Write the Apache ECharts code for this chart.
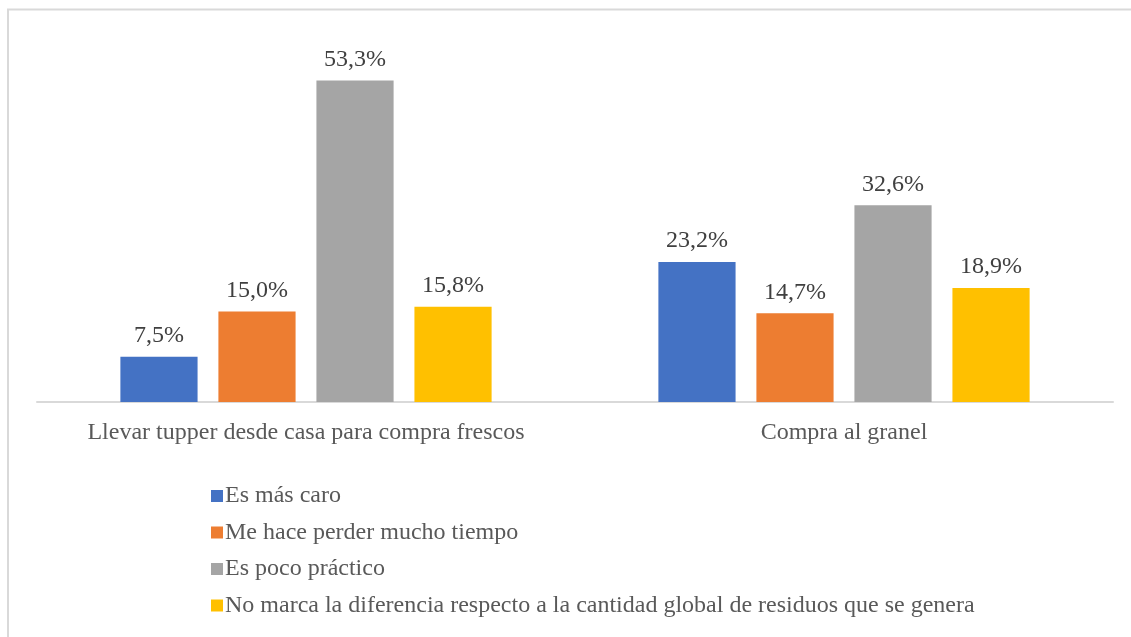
<!DOCTYPE html>
<html>
<head>
<meta charset="utf-8">
<script src="https://cdn.jsdelivr.net/npm/echarts@6/dist/echarts.min.js"></script>
<style>
  html, body { margin: 0; padding: 0; background: #ffffff; }
  #chart { width: 1131px; height: 637px; }
</style>
</head>
<body>
<div id="chart"></div>
<script>
// Categories on the x axis
const categories = ['Llevar tupper desde casa para compra frescos', 'Compra al granel'];

// Series names (legend entries) and their values in percent
const seriesNames = [
  'Es más caro',
  'Me hace perder mucho tiempo',
  'Es poco práctico',
  'No marca la diferencia respecto a la cantidad global de residuos que se genera'
];
const esMasCaro = [7.5, 23.2];
const perderTiempo = [15.0, 14.7];
const pocoPractico = [53.3, 32.6];
const noMarcaDiferencia = [15.8, 18.9];

const seriesValues = [esMasCaro, perderTiempo, pocoPractico, noMarcaDiferencia];
const colors = ['#4472c4', '#ed7d31', '#a5a5a5', '#ffc000'];

const font = '"Liberation Serif", "Times New Roman", serif';

const chart = echarts.init(document.getElementById('chart'), null, { renderer: 'canvas' });

chart.setOption({
  animation: false,
  backgroundColor: '#ffffff',
  textStyle: { fontFamily: font },
  graphic: [{
    type: 'rect',
    shape: { x: 8, y: 9.5, width: 1200, height: 700 },
    style: { fill: 'none', stroke: '#d9d9d9', lineWidth: 2 },
    silent: true
  }],
  grid: { left: 37, right: 18, top: 40, bottom: 235, containLabel: false },
  legend: {
    orient: 'vertical',
    left: 206,
    top: 479,
    icon: 'rect',
    itemWidth: 12,
    itemHeight: 12,
    itemGap: 12.5,
    textStyle: { fontFamily: font, fontSize: 24, color: '#595959', lineHeight: 24, padding: [0, 0, 0, -3] },
    data: seriesNames
  },
  xAxis: {
    type: 'category',
    data: categories,
    axisLine: { lineStyle: { color: '#d9d9d9', width: 2 } },
    axisTick: { show: false },
    axisLabel: { interval: 0, fontFamily: font, fontSize: 24, color: '#595959', margin: 19 }
  },
  yAxis: {
    type: 'value',
    min: 0,
    max: 60,
    show: false,
    splitLine: { show: false }
  },
  series: seriesNames.map((name, i) => ({
    name: name,
    type: 'bar',
    data: seriesValues[i],
    barGap: '27%',
    barCategoryGap: '31%',
    itemStyle: { color: colors[i] },
    label: {
      show: true,
      position: 'top',
      distance: 9,
      fontFamily: font,
      fontSize: 24,
      color: '#404040',
      formatter: p => p.value.toFixed(1).replace('.', ',') + '%'
    }
  }))
});
</script>
</body>
</html>
